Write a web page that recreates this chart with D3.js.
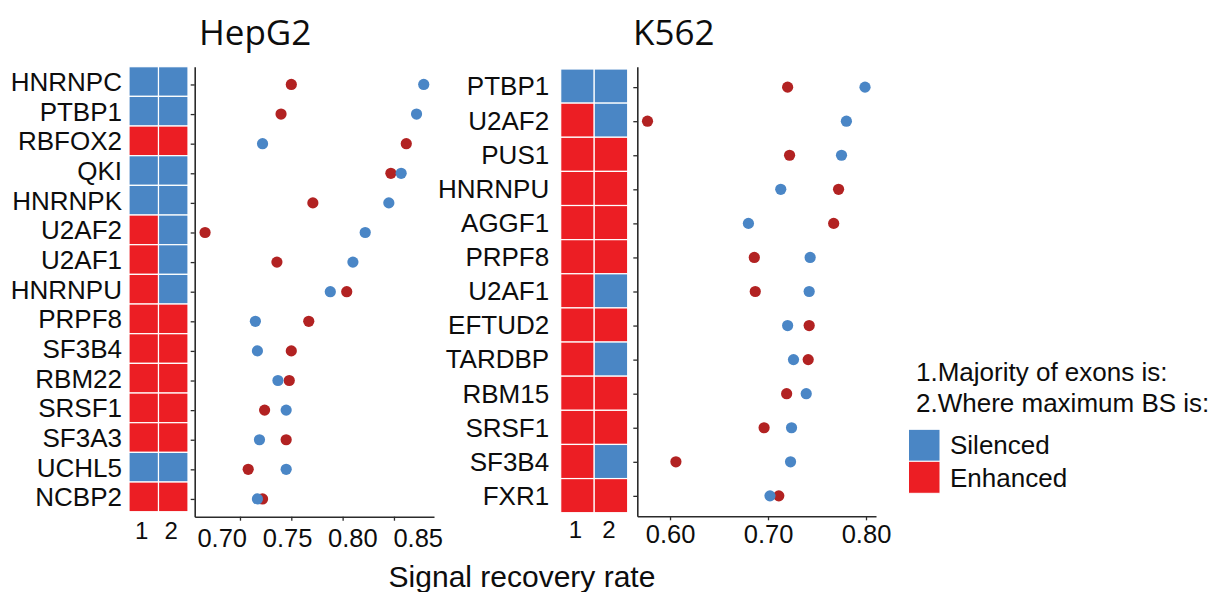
<!DOCTYPE html>
<html>
<head>
<meta charset="utf-8">
<script src="https://cdn.jsdelivr.net/npm/d3@7"></script>
<style>
  html, body { margin: 0; padding: 0; background: #fff; }
  svg { display: block; }
</style>
</head>
<body>
<svg id="chart" width="1222" height="592"></svg>
<script>
// ---- HepG2 ----
const hepg2Genes = ["HNRNPC","PTBP1","RBFOX2","QKI","HNRNPK","U2AF2","U2AF1","HNRNPU",
                    "PRPF8","SF3B4","RBM22","SRSF1","SF3A3","UCHL5","NCBP2"];
// 1. Majority of exons is; 2. Where maximum BS is  (S = Silenced, E = Enhanced)
const hepg2Majority = ["S","S","E","S","S","E","E","E","E","E","E","E","E","S","E"];
const hepg2MaxBS    = ["S","S","E","S","S","S","S","S","E","E","E","E","E","S","E"];
const hepg2Silenced = [0.879,0.872,0.722,0.857,0.845,0.822,0.810,0.788,0.715,0.717,0.737,0.745,0.719,0.745,0.717];
const hepg2Enhanced = [0.750,0.740,0.862,0.847,0.771,0.666,0.736,0.804,0.767,0.750,0.748,0.724,0.745,0.708,0.722];
const hepg2Ticks = [0.70, 0.75, 0.80, 0.85];

// ---- K562 ----
const k562Genes = ["PTBP1","U2AF2","PUS1","HNRNPU","AGGF1","PRPF8","U2AF1","EFTUD2",
                   "TARDBP","RBM15","SRSF1","SF3B4","FXR1"];
const k562Majority = ["S","E","E","E","E","E","E","E","E","E","E","E","E"];
const k562MaxBS    = ["S","S","E","E","E","E","S","E","S","E","E","S","E"];
const k562Silenced = [0.799,0.780,0.775,0.713,0.680,0.743,0.742,0.720,0.726,0.739,0.724,0.723,0.702];
const k562Enhanced = [0.720,0.577,0.722,0.772,0.767,0.686,0.687,0.742,0.741,0.719,0.696,0.606,0.711];
const k562Ticks = [0.60, 0.70, 0.80];

const legendTitles = ["1.Majority of exons is:", "2.Where maximum BS is:"];
const legendKeys = ["S", "E"];
const legendLabels = { S: "Silenced", E: "Enhanced" };

const tileColor = { S: "#4A86C5", E: "#EC1E24" };
const dotColor = { S: "#4A86C6", E: "#B22222" };
const ARIAL = "'Liberation Sans', Arial, sans-serif";
const TITLEFONT = "'Open Sans', 'Noto Sans', sans-serif";
const AXIS = "#2b2b2b";
const INK = "#0d0d0d";

const svg = d3.select("#chart");

function panel(cfg) {
  const g = svg.append("g");
  const genes = cfg.genes;

  // heatmap of the two classification columns
  const rowBand = d3.scaleBand().domain(genes).range(cfg.tileY).paddingInner(0);
  const colBand = d3.scaleBand().domain(["1", "2"]).range(cfg.tileX).paddingInner(0);
  const cells = [];
  genes.forEach((gname, i) => {
    cells.push({ gene: gname, col: "1", v: cfg.majority[i] });
    cells.push({ gene: gname, col: "2", v: cfg.maxbs[i] });
  });
  g.append("g").selectAll("rect").data(cells).join("rect")
    .attr("x", d => colBand(d.col))
    .attr("y", d => rowBand(d.gene))
    .attr("width", colBand.bandwidth())
    .attr("height", rowBand.bandwidth())
    .attr("fill", d => tileColor[d.v])
    .attr("stroke", "#fff")
    .attr("stroke-width", 1.2);

  // gene names
  g.append("g").selectAll("text").data(genes).join("text")
    .attr("x", cfg.tileX[0] - cfg.labelGap)
    .attr("y", d => rowBand(d) + rowBand.bandwidth() / 2 + cfg.labelSize * 0.36)
    .attr("text-anchor", "end")
    .attr("font-family", ARIAL)
    .attr("font-size", cfg.labelSize)
    .attr("fill", INK)
    .text(d => d);

  // column numbers
  g.append("g").selectAll("text").data(["1", "2"]).join("text")
    .attr("x", d => colBand(d) + colBand.bandwidth() / 2 - 2)
    .attr("y", cfg.colLabelY)
    .attr("text-anchor", "middle")
    .attr("font-family", ARIAL)
    .attr("font-size", 24)
    .attr("fill", INK)
    .text(d => d);

  // dot plot
  const x = d3.scaleLinear().domain(cfg.xDomain).range([cfg.axisX, cfg.axisRight]);
  const y = d3.scalePoint().domain(genes).range([cfg.axisTop, cfg.axisBottom]).padding(0.6);

  const xAxis = d3.axisBottom(x).tickValues(cfg.ticks).tickFormat(d3.format(".2f"))
    .tickSize(4).tickSizeOuter(0).tickPadding(cfg.tickPad);
  const gx = g.append("g").attr("transform", `translate(0,${cfg.axisBottom})`).call(xAxis);
  gx.select(".domain").attr("stroke", AXIS).attr("stroke-width", 1.6);
  gx.selectAll(".tick line").attr("stroke", AXIS).attr("stroke-width", 1.3);
  const tickText = gx.selectAll(".tick text")
    .attr("font-family", ARIAL).attr("font-size", 25.5).attr("fill", INK);
  // tick labels may be spread wider than the ticks themselves
  if (cfg.labelSpread) {
    const spread = d3.scaleLinear().domain(d3.extent(cfg.ticks)).range(cfg.labelSpread);
    tickText.attr("dx", d => spread(d) - x(d));
  }

  const yAxis = d3.axisLeft(y).tickFormat("").tickSize(4).tickSizeOuter(0);
  const gy = g.append("g").attr("transform", `translate(${cfg.axisX},0)`).call(yAxis);
  gy.select(".domain").attr("stroke", AXIS).attr("stroke-width", 1.6);
  gy.selectAll(".tick line").attr("stroke", AXIS).attr("stroke-width", 1.3);

  const pts = [];
  genes.forEach((gname, i) => {
    pts.push({ gene: gname, v: cfg.enhanced[i], k: "E" });
    pts.push({ gene: gname, v: cfg.silenced[i], k: "S" });
  });
  g.append("g").selectAll("circle").data(pts).join("circle")
    .attr("cx", d => x(d.v))
    .attr("cy", d => y(d.gene))
    .attr("r", 5.6)
    .attr("fill", d => dotColor[d.k]);

  // panel title
  g.append("text")
    .attr("x", cfg.titleX)
    .attr("y", 45)
    .attr("text-anchor", "start")
    .attr("font-family", TITLEFONT)
    .attr("font-size", 35)
    .attr("fill", INK)
    .text(cfg.title);
}

panel({
  title: "HepG2", titleX: 199,
  genes: hepg2Genes, majority: hepg2Majority, maxbs: hepg2MaxBS,
  silenced: hepg2Silenced, enhanced: hepg2Enhanced, ticks: hepg2Ticks,
  tileX: [129, 188], tileY: [66.7, 511.7], labelGap: 7, labelSize: 26, colLabelY: 539,
  axisX: 194.7, axisRight: 434, axisTop: 66.7, axisBottom: 516.7,
  xDomain: [0.6559, 0.889], tickPad: 8, labelSpread: [221.7, 417.7]
});

panel({
  title: "K562", titleX: 633,
  genes: k562Genes, majority: k562Majority, maxbs: k562MaxBS,
  silenced: k562Silenced, enhanced: k562Enhanced, ticks: k562Ticks,
  tileX: [560.7, 627.7], tileY: [69, 512.7], labelGap: 11.5, labelSize: 26, colLabelY: 538,
  axisX: 637.3, axisRight: 876, axisTop: 66.7, axisBottom: 516.3,
  xDomain: [0.5666, 0.8102], tickPad: 5
});

// shared axis title
svg.append("text")
  .attr("x", 522)
  .attr("y", 587)
  .attr("text-anchor", "middle")
  .attr("font-family", ARIAL)
  .attr("font-size", 30)
  .attr("fill", INK)
  .text("Signal recovery rate");

// legend
const lg = svg.append("g");
lg.selectAll("text.title").data(legendTitles).join("text")
  .attr("class", "title")
  .attr("x", 916)
  .attr("y", (d, i) => 380.5 + i * 31.3)
  .attr("font-family", ARIAL)
  .attr("font-size", 26)
  .attr("fill", INK)
  .text(d => d);
lg.selectAll("rect").data(legendKeys).join("rect")
  .attr("x", 908.5)
  .attr("y", (d, i) => 429.3 + i * 32)
  .attr("width", 31.5)
  .attr("height", 32)
  .attr("fill", d => tileColor[d])
  .attr("stroke", "#fff")
  .attr("stroke-width", 1);
lg.selectAll("text.key").data(legendKeys).join("text")
  .attr("class", "key")
  .attr("x", 950)
  .attr("y", (d, i) => 454 + i * 33)
  .attr("font-family", ARIAL)
  .attr("font-size", 26)
  .attr("fill", INK)
  .text(d => legendLabels[d]);
</script>
</body>
</html>
